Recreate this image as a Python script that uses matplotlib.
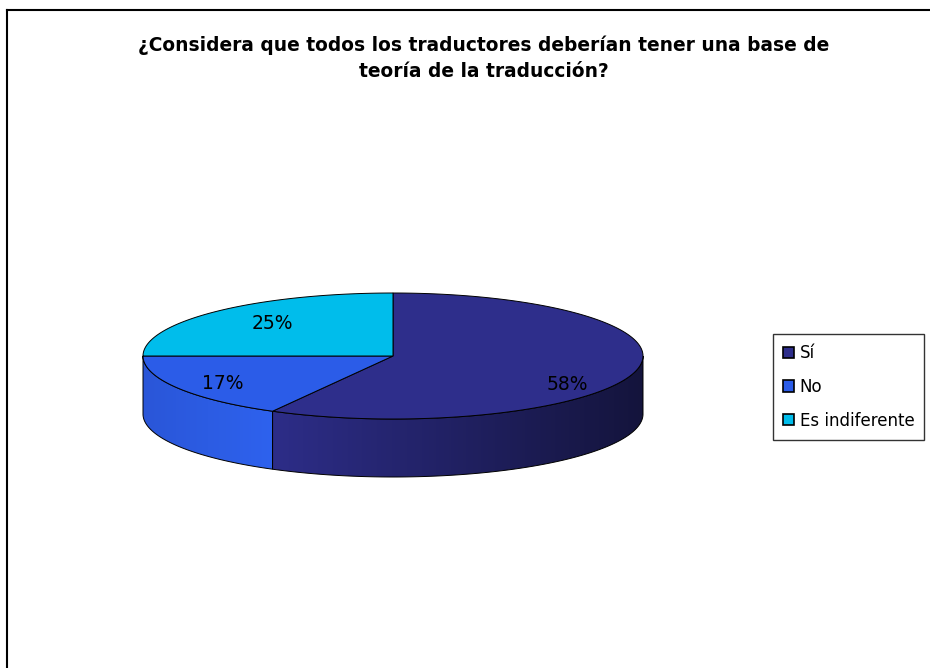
import numpy as np
import matplotlib.pyplot as plt
from matplotlib.patches import Polygon, Patch
from matplotlib.colors import to_rgb

# data
labels = ['Sí', 'No', 'Es indiferente']
values = [58, 17, 25]
colors = ['#2E2E8B', '#2B5CE8', '#00BDEB']
# side wall gradient (left, right) per slice
side_colors = [('#2D2D88', '#14143C'), ('#2A56D8', '#2E62EE'), ('#00B0DA', '#00BDEB')]
title = '¿Considera que todos los traductores deberían tener una base de\nteoría de la traducción?'

fig = plt.figure(figsize=(9.3, 6.68), dpi=100)
ax = fig.add_axes([0, 0, 1, 1])
ax.axis('off')

# pie geometry in pixel units
cx, cy, rx, ry, depth = 393, 356, 250, 63, 58
label_r = [0.72, 0.79, 0.68]
label_dy = [17, 2, -2]


def pt(t, dy=0):
    t = np.radians(t)
    return cx + rx * np.cos(t), cy - ry * np.sin(t) + dy


fracs = np.array(values) / sum(values)
cum = np.concatenate([[0], np.cumsum(fracs)])
a0s = 90 - cum[:-1] * 360   # start (counterclockwise end)
a1s = 90 - cum[1:] * 360

# side walls (front half only)
for i in range(len(values)):
    lo, hi = max(a1s[i], -180), min(a0s[i], 0)
    if hi <= lo:
        continue
    t = np.linspace(lo, hi, 200)
    xt, yt = pt(t)
    xb, yb = pt(t[::-1], depth)
    verts = np.column_stack([np.concatenate([xt, xb]), np.concatenate([yt, yb])])
    poly = Polygon(verts, closed=True, facecolor='none', edgecolor='black', lw=0.7, zorder=3)
    ax.add_patch(poly)
    x0, x1 = verts[:, 0].min(), verts[:, 0].max()
    y0, y1 = verts[:, 1].min(), verts[:, 1].max()
    cl, cr = np.array(to_rgb(side_colors[i][0])), np.array(to_rgb(side_colors[i][1]))
    s = np.linspace(0, 1, 256)[:, None]
    grad = (cl * (1 - s) + cr * s)[None, :, :]
    im = ax.imshow(grad, extent=(x0, x1, y1, y0), aspect='auto', zorder=2, interpolation='bilinear')
    im.set_clip_path(poly)

# top faces
for i in range(len(values)):
    t = np.linspace(a1s[i], a0s[i], 200)
    xs, ys = pt(t)
    verts = np.column_stack([np.concatenate([[cx], xs]), np.concatenate([[cy], ys])])
    ax.add_patch(Polygon(verts, closed=True, facecolor=colors[i], edgecolor='black', lw=0.7, zorder=4))
    mid = np.radians((a0s[i] + a1s[i]) / 2)
    lx = cx + label_r[i] * rx * np.cos(mid)
    ly = cy - label_r[i] * ry * np.sin(mid) + label_dy[i]
    ax.text(lx, ly, f'{values[i]}%', ha='center', va='center', fontsize=13.5, zorder=5)

ax.set_xlim(0, 930)
ax.set_ylim(668, 0)

# frame lines
ax.plot([7, 930], [10, 10], color='black', lw=1.5, zorder=6)
ax.plot([7, 7], [10, 668], color='black', lw=1.5, zorder=6)

ax.text(484, 58, title, ha='center', va='center', fontsize=13.4, fontweight='bold', linespacing=1.45)

handles = [Patch(facecolor=c, edgecolor='black', lw=1.2) for c in colors]
leg = ax.legend(handles, labels, loc='upper left', bbox_to_anchor=(773 / 930, 1 - 334 / 668),
                bbox_transform=fig.transFigure, fontsize=12, frameon=True, fancybox=False,
                edgecolor='black', handlelength=0.65, handleheight=0.65, handletextpad=0.35,
                labelspacing=0.95, borderpad=0.6, borderaxespad=0)
leg.get_frame().set_linewidth(1.0)

fig.savefig('out.png', dpi=100)
